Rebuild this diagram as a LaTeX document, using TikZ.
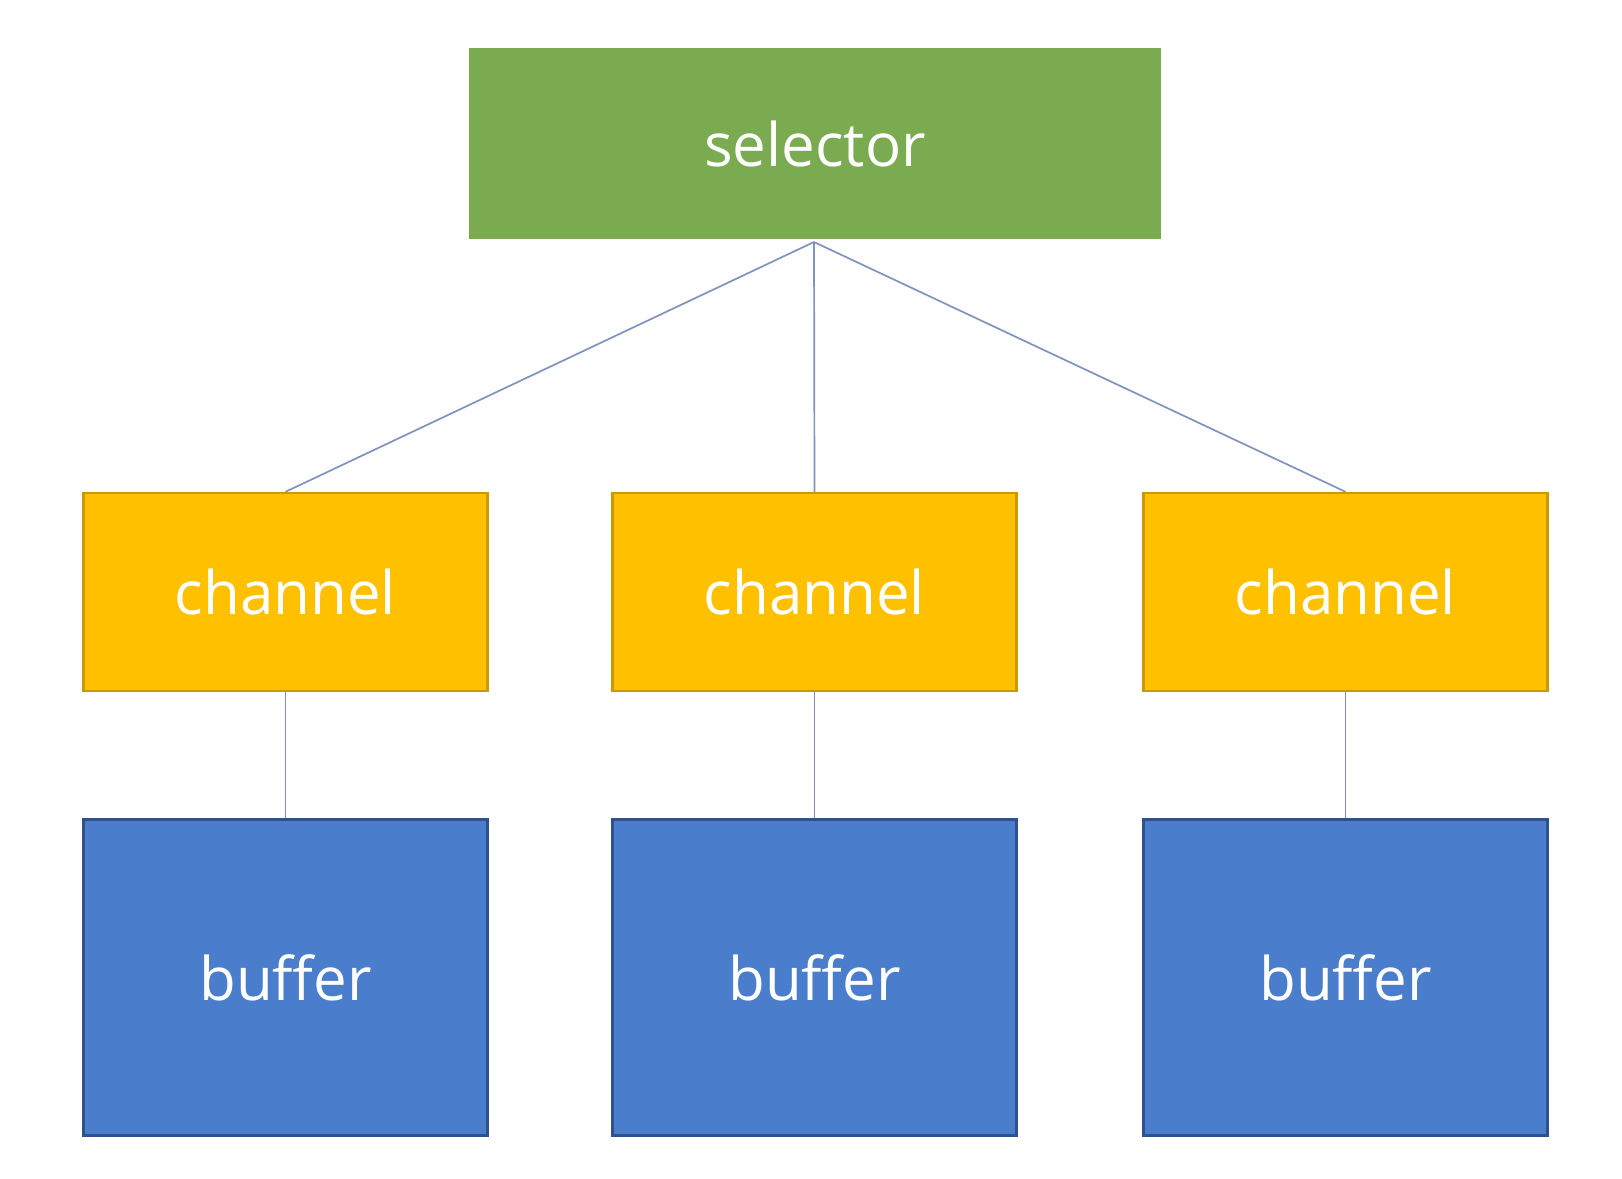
\documentclass[tikz,border=0pt]{standalone}
\usepackage{fontspec}
\setmainfont{Open Sans}
\usetikzlibrary{positioning}
\definecolor{selgreen}{HTML}{7AAB50}
\definecolor{chanyellow}{HTML}{FFC000}
\definecolor{chanedge}{HTML}{C99A06}
\definecolor{bufblue}{HTML}{4A7ECD}
\definecolor{bufedge}{HTML}{2F528F}
\definecolor{linkgray}{HTML}{7F93BC}

\begin{document}
\begin{tikzpicture}[x=0.5pt, y=-0.5pt, line width=0.75pt,
            every node/.style={text=white, font=\fontsize{30}{36}\selectfont},
            selbox/.style={fill=selgreen, minimum width=346pt, minimum height=95.5pt, inner sep=0pt},
            chanbox/.style={fill=chanyellow, draw=chanedge, line width=1.2pt, minimum width=202pt, minimum height=99pt, inner sep=0pt},
            bufbox/.style={fill=bufblue, draw=bufedge, line width=1.2pt, minimum width=202pt, minimum height=158pt, inner sep=0pt},
            link/.style={draw=linkgray, line width=0.85pt}]

        \useasboundingbox (0,0) rectangle (1622,1178);

        % --- Selector ---
        \node[selbox] (S) at (815,143.5) {selector};
        \coordinate (hub) at (814,242);

        % --- Channels ---
        \node[chanbox] (C1) at (285.5,592) {channel};
        \node[chanbox] (C2) at (814.5,592) {channel};
        \node[chanbox] (C3) at (1345.5,592) {channel};

        % --- Buffers ---
        \node[bufbox] (B1) [below=63pt of C1] {buffer};
        \node[bufbox] (B2) [below=63pt of C2] {buffer};
        \node[bufbox] (B3) [below=63pt of C3] {buffer};

        % --- Links ---
        \path[link] (hub) -- (C1.north)
                    (hub) -- (C2.north)
                    (hub) -- (C3.north);
        \path[link] (C1.south) -- (B1.north)
                    (C2.south) -- (B2.north)
                    (C3.south) -- (B3.north);

    \end{tikzpicture}
\end{document}
